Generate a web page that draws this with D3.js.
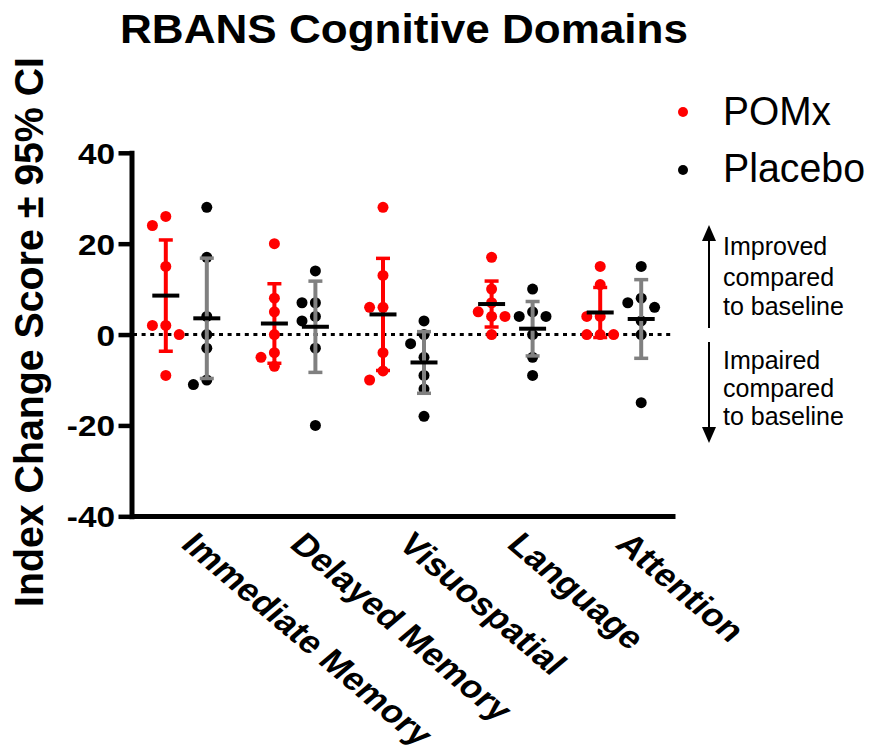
<!DOCTYPE html>
<html>
<head>
<meta charset="utf-8">
<script src="https://cdn.jsdelivr.net/npm/d3@7/dist/d3.min.js"></script>
<style>
  html, body { margin: 0; padding: 0; background: #fff; }
  svg { display: block; font-family: "Liberation Sans", Arial, sans-serif; }
</style>
</head>
<body>
<svg id="chart" width="871" height="755"></svg>
<script>
// ---------------- DATA ----------------
const categories = ["Immediate Memory", "Delayed Memory", "Visuospatial", "Language", "Attention"];
const seriesNames = ["POMx", "Placebo"];
const pomxValues = [
  [26, 24, 15, 2, 2, 0, -9],
  [20, 8, 5, 0, -4, -5, -7],
  [28, 13, 6, 6, -4, -8, -10],
  [17, 10, 7, 5, 4, 4, 0],
  [15, 11, 4, 4, 0, 0, 0]
];
const placeboValues = [
  [28, 17, 4, 0, -3, -10, -11],
  [14, 7, 7, 4, 3, -3, -20],
  [3, 0, -2, -5, -9, -12, -18],
  [10, 5, 4, 4, 0, -5, -9],
  [15, 8, 7, 6, 3, 0, -15]
];
const yTicks = [-40, -20, 0, 20, 40];
const yTickLabels = ["-40", "-20", "0", "20", "40"];
const yDomain = [-40, 40];
const titleText = "RBANS Cognitive Domains";
const yTitleText = "Index Change Score \u00B1 95% CI";
const improvedLines = ["Improved", "compared", "to baseline"];
const impairedLines = ["Impaired", "compared", "to baseline"];

// ---------------- STYLE / LAYOUT ----------------
const dotColor = { POMx: "#ff0000", Placebo: "#000000" };
const barColor = { POMx: "#ff0000", Placebo: "#808080" };
const T975_DF6 = 2.4469; // t critical value for 95% CI with n=7

const svg = d3.select("#chart");

const y = d3.scaleLinear().domain(yDomain).range([516.3, 152.8]);
const x0 = d3.scaleBand().domain(categories).range([132, 675]).padding(0);
const x1 = d3.scalePoint().domain(seriesNames).range([-20.5, 20.5]);

// zero dotted line
svg.append("line")
  .attr("x1", 133).attr("x2", 674)
  .attr("y1", y(0)).attr("y2", y(0))
  .attr("stroke", "#000").attr("stroke-width", 3)
  .attr("stroke-dasharray", "4,4.6");

// groups
const groups = [];
categories.forEach((c, i) => {
  groups.push({ cat: c, series: "POMx", values: pomxValues[i] });
  groups.push({ cat: c, series: "Placebo", values: placeboValues[i] });
});

function stats(vals) {
  const n = vals.length;
  const m = d3.mean(vals);
  const sd = d3.deviation(vals);
  const h = T975_DF6 * sd / Math.sqrt(n);
  return { mean: m, lo: m - h, hi: m + h };
}

// jitter: greedy placement on a lattice, avoiding overlaps
const step = 6.7, collide = 13;
function jitter(vals) {
  const order = vals.map((v, i) => ({ v, i })).sort((a, b) => b.v - a.v);
  const placed = [];
  const offs = new Array(vals.length).fill(0);
  const cands = [0, -step, step, -2 * step, 2 * step];
  order.forEach(p => {
    const py = y(p.v);
    let best = 0, bestScore = -Infinity;
    for (const c of cands) {
      const minD = placed.length ? d3.min(placed, q => Math.hypot(q.x - c, q.y - py)) : Infinity;
      if (minD >= collide) { best = c; bestScore = Infinity; break; }
      if (minD > bestScore) { bestScore = minD; best = c; }
    }
    offs[p.i] = best; placed.push({ x: best, y: py });
  });
  return offs;
}

const plot = svg.append("g");
// dots
groups.forEach(g => {
  const cx = x0(g.cat) + x0.bandwidth() / 2 + x1(g.series);
  const offs = jitter(g.values);
  plot.append("g").selectAll("circle").data(g.values).join("circle")
    .attr("cx", (d, i) => cx + offs[i])
    .attr("cy", d => y(d))
    .attr("r", 5.5)
    .attr("fill", dotColor[g.series]);
});
// error bars and means
groups.forEach(g => {
  const cx = x0(g.cat) + x0.bandwidth() / 2 + x1(g.series);
  const s = stats(g.values);
  const col = barColor[g.series];
  const eg = plot.append("g");
  eg.append("line").attr("x1", cx).attr("x2", cx).attr("y1", y(s.hi)).attr("y2", y(s.lo))
    .attr("stroke", col).attr("stroke-width", 4);
  [s.hi, s.lo].forEach(v => {
    eg.append("line").attr("x1", cx - 7).attr("x2", cx + 7).attr("y1", y(v)).attr("y2", y(v))
      .attr("stroke", col).attr("stroke-width", 3.5);
  });
  eg.append("line").attr("x1", cx - 13.5).attr("x2", cx + 13.5).attr("y1", y(s.mean)).attr("y2", y(s.mean))
    .attr("stroke", "#000").attr("stroke-width", 4);
});

// y axis
const yAxisG = svg.append("g").attr("transform", "translate(131.5,0)")
  .call(d3.axisLeft(y).tickValues(yTicks).tickSize(13).tickSizeOuter(0)
    .tickFormat(d => yTickLabels[yTicks.indexOf(d)]));
yAxisG.select(".domain").attr("stroke", "#000").attr("stroke-width", 5).attr("stroke-linecap", "square");
yAxisG.selectAll(".tick line").attr("stroke", "#000").attr("stroke-width", 4.5);
yAxisG.selectAll(".tick text")
  .attr("x", null).attr("dy", null)
  .attr("transform", "translate(-16.5,10.5) scale(1.15,1)")
  .attr("text-anchor", "end")
  .attr("fill", "#000")
  .style("font-size", "29px").style("font-weight", "bold")
  .style("font-family", '"Liberation Sans", Arial, sans-serif');

// x axis
const xAxisG = svg.append("g").attr("transform", "translate(0,516)")
  .call(d3.axisBottom(x0).tickSize(0).tickSizeOuter(0));
xAxisG.select(".domain").attr("stroke", "#000").attr("stroke-width", 5);
xAxisG.selectAll(".tick text")
  .attr("x", null).attr("y", null).attr("dy", null)
  .attr("transform", "translate(-6.7,30) scale(1.18,1) rotate(45)")
  .attr("text-anchor", "start")
  .attr("fill", "#000")
  .style("font-size", "31.5px").style("font-weight", "bold")
  .style("font-family", '"Liberation Sans", Arial, sans-serif');

// title
svg.append("text").attr("x", 120).attr("y", 43)
  .attr("textLength", 568).attr("lengthAdjust", "spacingAndGlyphs")
  .style("font-size", "41px").style("font-weight", "bold")
  .text(titleText);

// y title
svg.append("text").attr("transform", "translate(43,332) rotate(-90)")
  .attr("text-anchor", "middle")
  .attr("textLength", 550).attr("lengthAdjust", "spacingAndGlyphs")
  .style("font-size", "40px").style("font-weight", "bold")
  .text(yTitleText);

// legend
const legend = svg.append("g");
const legendRows = [
  { name: seriesNames[0], cy: 112, base: 125, w: 108 },
  { name: seriesNames[1], cy: 170, base: 182, w: 142 }
];
legendRows.forEach(r => {
  legend.append("circle").attr("cx", 683).attr("cy", r.cy).attr("r", 5).attr("fill", dotColor[r.name]);
  legend.append("text").attr("x", 723).attr("y", r.base)
    .attr("textLength", r.w).attr("lengthAdjust", "spacingAndGlyphs")
    .style("font-size", "40px").text(r.name);
});

// annotations with arrows
const ann = svg.append("g");
const ax = 709;
ann.append("line").attr("x1", ax).attr("x2", ax).attr("y1", 238).attr("y2", 328)
  .attr("stroke", "#000").attr("stroke-width", 2);
ann.append("path").attr("d", `M${ax},225 L${ax - 7},241 L${ax + 7},241 Z`).attr("fill", "#000");
ann.append("line").attr("x1", ax).attr("x2", ax).attr("y1", 342).attr("y2", 430)
  .attr("stroke", "#000").attr("stroke-width", 2);
ann.append("path").attr("d", `M${ax},443 L${ax - 7},427 L${ax + 7},427 Z`).attr("fill", "#000");

const upBase = [255, 286, 315];
const downBase = [369, 397, 425];
improvedLines.forEach((t, i) => {
  ann.append("text").attr("x", 723).attr("y", upBase[i]).style("font-size", "25px").text(t);
});
impairedLines.forEach((t, i) => {
  ann.append("text").attr("x", 723).attr("y", downBase[i]).style("font-size", "25px").text(t);
});
</script>
</body>
</html>
